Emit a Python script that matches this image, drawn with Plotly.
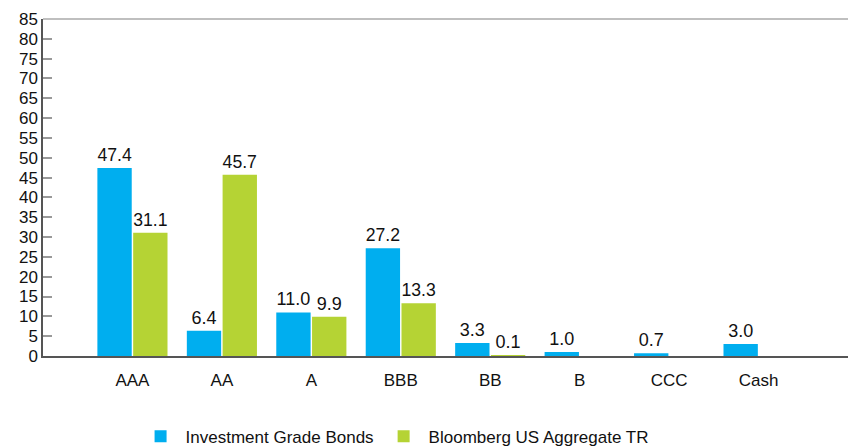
import plotly.graph_objects as go

categories = ["AAA", "AA", "A", "BBB", "BB", "B", "CCC", "Cash"]
ig_bonds = [47.4, 6.4, 11.0, 27.2, 3.3, 1.0, 0.7, 3.0]
bbg_agg = [31.1, 45.7, 9.9, 13.3, 0.1, None, None, None]
y_ticks = list(range(0, 90, 5))

FONT = "Liberation Sans, Arial, sans-serif"
BLUE = "#00AEEF"
GREEN = "#B5D334"

def labels(vals):
    return [("" if v is None else f"{v:.1f}") for v in vals]

fig = go.Figure()
fig.add_trace(go.Bar(
    x=categories, y=ig_bonds, name="Investment Grade Bonds",
    marker=dict(color=BLUE, line=dict(width=0)),
    text=labels(ig_bonds), textposition="outside", cliponaxis=False,
    textfont=dict(family=FONT, size=18, color="#111"),
))
fig.add_trace(go.Bar(
    x=categories, y=bbg_agg, name="Bloomberg US Aggregate TR",
    marker=dict(color=GREEN, line=dict(width=0)),
    text=labels(bbg_agg), textposition="outside", cliponaxis=False,
    textfont=dict(family=FONT, size=18, color="#111"),
))

# page body has an 8px default margin, so the figure is sized to fit the window
fig.update_layout(
    width=848, height=440,
    margin=dict(l=35, r=8, t=11, b=92, autoexpand=False),
    paper_bgcolor="white", plot_bgcolor="white",
    barmode="group", bargap=0.2, bargroupgap=0.04,
    font=dict(family=FONT, size=17, color="#111"),
    showlegend=True,
    legend=dict(orientation="h", x=0.115, xanchor="left", y=-0.186, yanchor="top",
                font=dict(family=FONT, size=17, color="#111"),
                itemwidth=40, traceorder="normal"),
    xaxis=dict(type="category", range=[-1, 8], showgrid=False, automargin=False,
               showline=True, linecolor="#555", linewidth=1.5,
               ticks="", ticklabelstandoff=8,
               tickfont=dict(family=FONT, size=17, color="#111")),
    yaxis=dict(range=[0, 85], tickvals=y_ticks, showgrid=False, automargin=False,
               showline=True, linecolor="#555", linewidth=1.5, mirror=True,
               ticks="inside", ticklen=9, tickcolor="#999", tickwidth=1.5,
               tickfont=dict(family=FONT, size=17, color="#111"),
               ticklabelstandoff=0),
    shapes=[
        dict(type="line", xref="paper", yref="paper", x0=0, x1=1, y0=1, y1=1,
             line=dict(color="#aaa", width=1.5)),
    ],
)

fig.write_html("out.html")
